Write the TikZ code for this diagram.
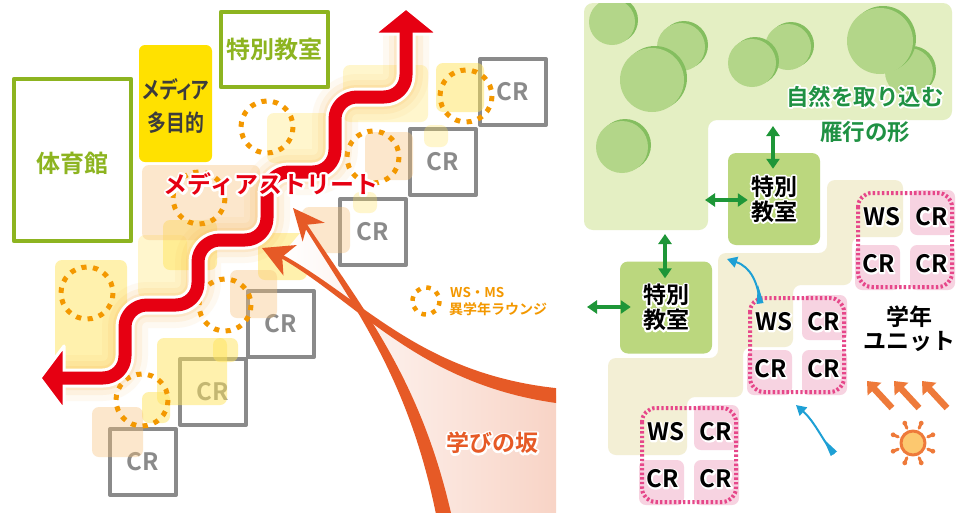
\documentclass[tikz,border=0pt]{standalone}
\usepackage{fontspec}
\usepackage{graphicx}
\newfontfamily\jp{Noto Sans CJK JP}[BoldFont={Noto Sans CJK JP Bold}]
\newfontfamily\jpprop{Noto Sans CJK JP}[BoldFont={Noto Sans CJK JP Bold},RawFeature=+palt]
\usetikzlibrary{arrows.meta,calc}

\newcommand\jpf[2]{\jp\bfseries\fontsize{#1}{#2}\selectfont}
% text with a halo: a stroked copy in the halo colour under the filled text
\newcommand\halo[3][3.6]{%
  \leavevmode\rlap{\color{#2}\special{pdf:literal direct #1 w 1 j 1 Tr}#3\special{pdf:literal direct 0 Tr 0.4 w 0 j}}#3}

\definecolor{gymgreen}{HTML}{8DB420}
\definecolor{mediayellow}{HTML}{FFE100}
\definecolor{crgray}{HTML}{8A8A8A}
\definecolor{lounge}{HTML}{F39800}
\definecolor{streetred}{HTML}{E60012}
\definecolor{slope}{HTML}{E65A26}
\definecolor{slopepink}{HTML}{F8D3C5}
\definecolor{softyellow}{HTML}{FFE45C}
\definecolor{softpeach}{HTML}{F8C27A}
\definecolor{glow}{HTML}{F9B046}
\definecolor{parkgreen}{HTML}{E4EFC3}
\definecolor{treelight}{HTML}{B3D689}
\definecolor{treedark}{HTML}{84BE5F}
\definecolor{roomgreen}{HTML}{BBD77E}
\definecolor{linkgreen}{HTML}{1E9638}
\definecolor{textgreen}{HTML}{1F9143}
\definecolor{corridor}{HTML}{F3EFD5}
\definecolor{unitpink}{HTML}{F7D3E1}
\definecolor{unitdots}{HTML}{E6478A}
\definecolor{flowblue}{HTML}{1EA0D5}
\definecolor{sunorange}{HTML}{EE7A3A}
\definecolor{sunfill}{HTML}{FCC86F}
\definecolor{inkgray}{HTML}{3C3C3C}

% one grade unit: WS + three CR cells inside a dotted outline
\newcommand\gradeunit[3]{%
  \begin{scope}[shift={(#1,#2)}]
    \fill[unitpink,rounded corners=7pt] (53,-2) rectangle (98,43) (-2,53) rectangle (43,98) (53,53) rectangle (98,98);
    \draw[unitdots,line width=4pt,dash pattern=on 2.4pt off 2.2pt,rounded corners=14pt] (1,1) rectangle (95,95);
    \node[unitlabel] (#3ws) at (25,25) {\halo[3]{white}{WS}};
    \node[unitlabel] (#3a) at (75,25) {\halo[3]{white}{CR}};
    \node[unitlabel] (#3b) at (21.5,72) {\halo[3]{white}{CR}};
    \node[unitlabel] (#3c) at (75,72) {\halo[3]{white}{CR}};
  \end{scope}}

\def\streetpath{(406,33) -- (406,97) -- (335,97) -- (335,172) -- (267,172) -- (267,240) -- (198,240) -- (198,305) -- (125,305) -- (125,378) -- (63,378)}
\def\streetcore{(406,24) -- (406,97) -- (335,97) -- (335,172) -- (267,172) -- (267,240) -- (198,240) -- (198,305) -- (125,305) -- (125,378) -- (54,378)}

\begin{document}
\begin{tikzpicture}[x=1pt,y=-1pt,line join=round,
  crbox/.style={draw=crgray,line width=4pt,minimum size=66pt,inner sep=0pt,text=crgray,font=\jpf{24}{24}},
  softy/.style={fill=softyellow,fill opacity=0.5,rounded corners=7pt},
  softpale/.style={fill=softyellow,fill opacity=0.3,rounded corners=7pt},
  softpch/.style={fill=softpeach,fill opacity=0.38,rounded corners=7pt},
  ring/.style={draw=lounge,line width=5pt,dash pattern=on 5.2pt off 6.47pt},
  room/.style={fill=roomgreen,rounded corners=8pt,minimum width=92pt,minimum height=92pt,align=center,font=\jpf{23}{25},inner sep=0pt},
  link/.style={draw=linkgreen,line width=4pt,{Triangle[width=13pt,length=10pt]}-{Triangle[width=13pt,length=10pt]}},
  unitlabel/.style={font=\jpf{24}{24},inner sep=0pt},
  flow/.style={draw=flowblue,line width=2pt,-{Triangle[width=11pt,length=10pt]}},
  sunray/.style={draw=sunorange,line width=6.5pt,-{Triangle[width=18pt,length=11pt]}},
]
\useasboundingbox (0,0) rectangle (956,512);
\fill[white] (0,0) rectangle (956,512);

%% ---------- left: section ----------
\node[draw=gymgreen,line width=4.5pt,minimum width=117pt,minimum height=162pt,inner sep=0pt] (gym) at (72.5,160) {};
\node[text=gymgreen,font=\jpf{24}{24},inner sep=0pt] (gymtext) at (72,163) {体育館};
\node[draw=gymgreen,line width=4.5pt,minimum width=107pt,minimum height=75pt,inner sep=0pt,
      text=gymgreen,font=\jpf{24}{24}] (labtop) at (274.5,49.5) {特別教室};
\node[fill=mediayellow,rounded corners=6pt,minimum width=73pt,minimum height=117pt,inner sep=0pt] (media) at (175.5,103.5) {};
\node[align=center,text=inkgray,font=\jpf{23}{33},inner sep=0pt] (mediatext) at (176,106)
      {\scalebox{0.82}[1]{\jpprop\bfseries メディア}\\\scalebox{0.82}[1]{多目的}};

% classrooms in two staircases
\node[crbox] (cr1) at (143,462) {CR};
\node[crbox] (cr2) at (213,392) {CR};
\node[crbox] (cr3) at (281,324) {CR};
\node[crbox] (cr4) at (373,232) {CR};
\node[crbox] (cr5) at (443,162) {CR};
\node[crbox] (cr6) at (513,92) {CR};

% soft tinted patches
\foreach \xa/\ya/\xb/\yb in {55/260/127/370,163/220/217/270,157/338/227/405,258/233/307/280,436/63/484/112,213/338/238/362,142/392/170/423}
  \fill[softy] (\xa,\ya) rectangle (\xb,\yb);
\foreach \xa/\ya/\xb/\yb in {138/235/187/298,343/65/428/122,424/125/448/147,353/192/377/213,267/113/330/163}
  \fill[softpale] (\xa,\ya) rectangle (\xb,\yb);
\foreach \xa/\ya/\xb/\yb in {142/165/260/240,92/407/143/457,230/270/277/318,302/207/350/253,365/132/413/180}
  \fill[softpch] (\xa,\ya) rectangle (\xb,\yb);

% lounges
\foreach \cx/\cy in {267/127,466/96,373/157,199/198,225/305,87/293,142/400}
  \draw[ring] (\cx,\cy) circle (26);

% media street
\draw[glow,line width=46pt,opacity=0.07,rounded corners=22pt] \streetpath;
\draw[glow,line width=34pt,opacity=0.1,rounded corners=22pt] \streetpath;
\draw[glow,line width=24pt,opacity=0.15,rounded corners=22pt] \streetpath;
\draw[white,line width=19pt,rounded corners=22pt] \streetpath;
\filldraw[fill=streetred,draw=white,line width=3pt] (406,8) -- (438,34) -- (374,34) -- cycle;
\filldraw[fill=streetred,draw=white,line width=3pt] (40,378) -- (64,346) -- (64,410) -- cycle;
\draw[streetred,line width=13pt,rounded corners=22pt] \streetcore;
\node[font=\jpf{24}{24},text=streetred,inner sep=0pt] (street) at (271,184) {\halo[5]{white}{メディアストリート}};

% slope of learning
\begin{scope}
  \clip (0,0) rectangle (556,512);
  \shade[left color=white,right color=slopepink]
    (281,256) .. controls (360,300) and (420,380) .. (560,396) -- (560,516) -- (444,516)
    .. controls (415,380) and (360,310) .. (306,226) -- cycle;
  \fill[slope] (307.5,225) .. controls (362.7,308.7) and (420.1,377.9) .. (451.3,514.3)
    -- (436.7,517.7) .. controls (409.9,382.1) and (357.3,311.4) .. (304.5,227) -- cycle;
  \fill[slope] (281.9,254.4) .. controls (362.4,298.2) and (420.6,375) .. (560.9,388.6)
    -- (559.1,403.4) .. controls (419.4,385) and (357.6,301.8) .. (280.1,257.6) -- cycle;
  \fill[slope] (293,208) -- (324.7,222.8) -- (307.3,224.7) -- (302.6,241.6) -- cycle;
  \fill[slope] (262,248) -- (296.9,245) -- (282.2,256.8) -- (283.5,275.6) -- cycle;
\end{scope}
\node[font=\jpf{23}{24},text=slope,inner sep=0pt] (slopetext) at (492,443) {\halo[4]{white}{学びの坂}};

% legend
\draw[draw=lounge,line width=4.5pt,dash pattern=on 4.6pt off 6pt] (426,301) circle (13.5);
\node[anchor=west,text=lounge,font=\jpf{13.5}{14},inner sep=0pt] (lg1) at (450,292) {WS・MS};
\node[anchor=west,text=lounge,font=\jpf{14}{14},inner sep=0pt] (lg2) at (449,309.5) {異学年ラウンジ};

%% ---------- right: plan ----------
\begin{scope}
  \clip[rounded corners=9pt] (584,3) -- (952,3) -- (952,120) -- (708,120) -- (708,230) -- (584,230) -- cycle;
  \fill[parkgreen] (580,0) rectangle (956,240);
  \foreach \tx/\ty/\tr in {612/22/23,681/47/24,652/80/32,788/47/23,752/63/24,909/72/24,880/41/33,622/147/26}{
    \fill[treedark] (\tx+3,\ty-2) circle (\tr);
    \fill[treelight] (\tx,\ty) circle (\tr);}
\end{scope}
\node[font=\jpf{22.5}{35},text=textgreen,align=center,inner sep=0pt] (nature) at (865,114)
  {\halo{white}{自然を取り込む}\\\halo{white}{雁行の形}};

% corridor
\fill[corridor,rounded corners=8pt] (827,180) -- (903,180) -- (903,237) -- (852,237) -- (852,285)
  -- (793,285) -- (793,347) -- (743,347) -- (743,397) -- (687,397) -- (687,455) -- (608,455)
  -- (608,358) -- (718,358) -- (718,253) -- (827,253) -- cycle;

% special rooms
\node[room] (sp1) at (774,199) {\halo{white}{特別}\\\halo{white}{教室}};
\node[room] (sp2) at (666,307.5) {\halo{white}{特別}\\\halo{white}{教室}};
\coordinate (p1) at (773,126);
\coordinate (p2) at (705,200);
\coordinate (p3) at (665,234);
\coordinate (p4) at (587,307);
\draw[link] (p1) -- ($(sp1.north)+(-1,16)$);
\draw[link] (p2) -- ($(sp1.west)+(20,1)$);
\draw[link] (p3) -- ($(sp2.north)+(-1,17)$);
\draw[link] (p4) -- ($(sp2.west)+(11,-0.5)$);

% grade units
\gradeunit{857}{192}{ua}
\gradeunit{749}{297}{ub}
\gradeunit{641}{407}{uc}
\node[font=\jpf{23}{24},align=center,inner sep=0pt] (unitnote) at (909,329)
  {\halo{white}{学年}\\\halo{white}{ユニット}};

% air flow
\coordinate (f1) at (760,303);
\coordinate (f2) at (727,259);
\draw[flow] (f1) .. controls (758,283) and (751,267) .. (f2);
\fill[flowblue] (756.5,304) -- (763.5,303) -- (758,285) -- cycle;
\coordinate (f3) at (834,454);
\coordinate (f4) at (796,405);
\draw[flow] (f3) .. controls (823,441) and (815,422) .. (f4);
\fill[flowblue] (830.8,456) -- (837,451.5) -- (823.5,439) -- cycle;

% sunlight
\foreach \dx in {0,27,55}
  \draw[sunray] (892+\dx,408) -- (867+\dx,381);
\coordinate (sun) at (913,443);
\foreach \a in {22.5,67.5,...,337.5}{
  \draw[sunorange,line width=3pt,line cap=round] ($(sun)+(\a:16)$) -- ($(sun)+(\a:21)$);
  \fill[sunorange] ($(sun)+(\a:21.5)$) circle (2.4);}
\draw[sunorange,line width=3pt,fill=sunfill] (sun) circle (12);
\end{tikzpicture}
\end{document}
